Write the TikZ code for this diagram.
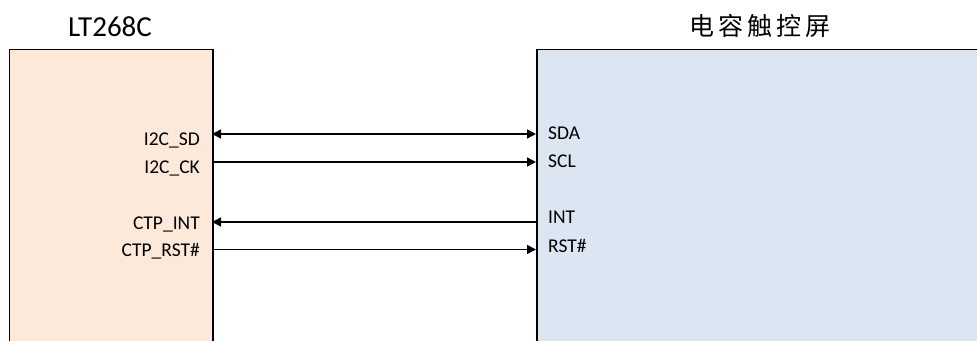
\documentclass[tikz,border=0pt]{standalone}
\usepackage{fontspec}
\setmainfont{Carlito}
\newfontfamily\cjk{Noto Sans CJK SC}
\usetikzlibrary{arrows.meta}
\definecolor{peach}{HTML}{FDE9D9}
\definecolor{paleblue}{HTML}{DCE6F2}
\tikzset{
  chip/.style={draw=black, line width=1.9pt, minimum height=330pt, anchor=north west, inner sep=0pt},
  sig/.style={line width=1.6pt, arrows={-Triangle[length=9pt,width=9pt]}},
  bisig/.style={line width=1.6pt, arrows={Triangle[length=9pt,width=9pt]-Triangle[length=9pt,width=9pt]}},
  pin/.style={font=\fontsize{19.5}{22}\selectfont, inner sep=0pt},
  title/.style={inner sep=0pt, anchor=base}
}
\begin{document}
\begin{tikzpicture}[x=1pt,y=-1pt]
\useasboundingbox (0,0) rectangle (977,340);
\clip (0,0) rectangle (977,340);
\node[chip, fill=peach, minimum width=203.5pt] (lt) at (8.5,48.5) {};
\node[chip, fill=paleblue, minimum width=460pt] (ctp) at (536,48.5) {};
\node[title, font=\fontsize{29}{32}\selectfont] (ltt) at (110,36) {LT268C};
\node[title, font=\cjk\fontsize{25}{30}\selectfont] (ctpt) at (760,35) {电\,容\,触\,控\,屏};
% pin coordinates
\coordinate (a1) at (212,134); \coordinate (b1) at (536,134);
\coordinate (a2) at (212,162); \coordinate (b2) at (536,162);
\coordinate (a3) at (212,222); \coordinate (b3) at (536,222);
\coordinate (a4) at (212,249.5); \coordinate (b4) at (536,249.5);
\draw[bisig] (a1) -- (b1);
\draw[sig] (a2) -- (b2);
\draw[sig] (b3) -- (a3);
\draw[sig] (a4) -- (b4);
% left labels
\node[pin, anchor=base east] (l1) at (200,145) {I2C\_SD};
\node[pin, anchor=base east] (l2) at (200,173) {I2C\_CK};
\node[pin, anchor=base east] (l3) at (200,229) {CTP\_INT};
\node[pin, anchor=base east] (l4) at (200,256) {CTP\_RST\#};
% right labels
\node[pin, anchor=base west] (r1) at (548,139) {SDA};
\node[pin, anchor=base west] (r2) at (548,167) {SCL};
\node[pin, anchor=base west] (r3) at (548,223) {INT};
\node[pin, anchor=base west] (r4) at (548,252) {RST\#};
\end{tikzpicture}
\end{document}
